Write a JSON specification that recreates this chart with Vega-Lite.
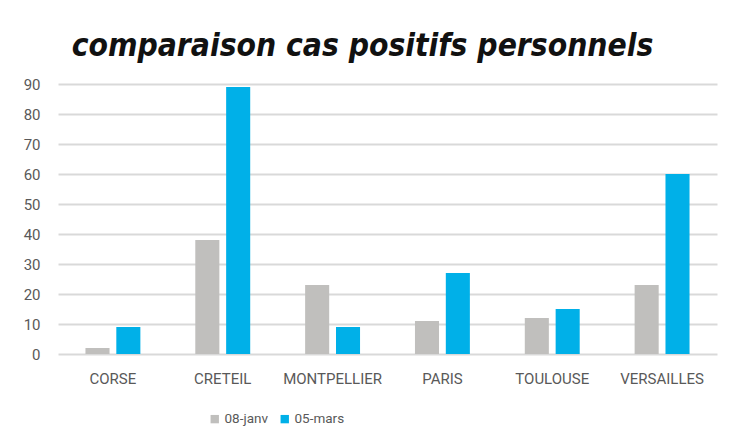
{
  "$schema": "https://vega.github.io/schema/vega-lite/v6.json",
  "width": 659,
  "height": 270,
  "autosize": {"type": "none"},
  "padding": {"left": 58, "right": 20, "top": 84, "bottom": 88},
  "background": "white",
  "title": {
    "text": "comparaison cas positifs personnels",
    "font": "DejaVu Sans Condensed, Liberation Sans, sans-serif",
    "fontSize": 31.5,
    "fontWeight": "bold",
    "fontStyle": "italic",
    "color": "#111111",
    "anchor": "middle",
    "dx": -25,
    "offset": 15
  },
  "data": {
    "values": [
      {"academie": "CORSE", "date": "08-janv", "cas": 2},
      {"academie": "CORSE", "date": "05-mars", "cas": 9},
      {"academie": "CRETEIL", "date": "08-janv", "cas": 38},
      {"academie": "CRETEIL", "date": "05-mars", "cas": 89},
      {"academie": "MONTPELLIER", "date": "08-janv", "cas": 23},
      {"academie": "MONTPELLIER", "date": "05-mars", "cas": 9},
      {"academie": "PARIS", "date": "08-janv", "cas": 11},
      {"academie": "PARIS", "date": "05-mars", "cas": 27},
      {"academie": "TOULOUSE", "date": "08-janv", "cas": 12},
      {"academie": "TOULOUSE", "date": "05-mars", "cas": 15},
      {"academie": "VERSAILLES", "date": "08-janv", "cas": 23},
      {"academie": "VERSAILLES", "date": "05-mars", "cas": 60}
    ]
  },
  "mark": {"type": "bar"},
  "encoding": {
    "x": {
      "field": "academie",
      "type": "nominal",
      "sort": null,
      "scale": {"paddingInner": 0.5, "paddingOuter": 0.25},
      "axis": {
        "title": null,
        "labelAngle": 0,
        "labelFont": "Roboto",
        "labelFontSize": 15,
        "labelColor": "#595959",
        "labelPadding": 17,
        "ticks": false,
        "domain": false,
        "grid": false
      }
    },
    "xOffset": {
      "field": "date",
      "type": "nominal",
      "sort": ["08-janv", "05-mars"],
      "scale": {"paddingInner": 0.22}
    },
    "y": {
      "field": "cas",
      "type": "quantitative",
      "scale": {"domain": [0, 90], "nice": false},
      "axis": {
        "title": null,
        "values": [0, 10, 20, 30, 40, 50, 60, 70, 80, 90],
        "labelFont": "Roboto",
        "labelFontSize": 15,
        "labelColor": "#595959",
        "labelPadding": 18,
        "ticks": false,
        "domain": false,
        "gridColor": "#D9D9D9",
        "gridWidth": 2
      }
    },
    "color": {
      "field": "date",
      "type": "nominal",
      "sort": ["08-janv", "05-mars"],
      "scale": {"domain": ["08-janv", "05-mars"], "range": ["#C0BFBD", "#00B0E8"]},
      "legend": {
        "title": null,
        "orient": "none",
        "legendX": 150,
        "legendY": 328,
        "direction": "horizontal",
        "symbolType": "square",
        "symbolSize": 70,
        "labelFont": "Roboto",
        "labelFontSize": 13.5,
        "labelColor": "#595959",
        "columnPadding": 10,
        "labelOffset": 3
      }
    }
  },
  "config": {
    "view": {"stroke": null}
  }
}
